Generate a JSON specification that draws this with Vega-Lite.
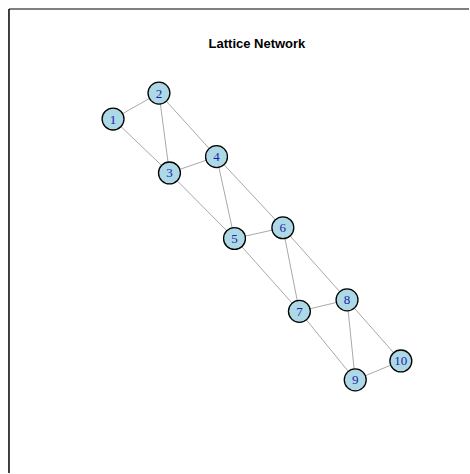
{
  "$schema": "https://vega.github.io/schema/vega-lite/v6.json",
  "width": 470,
  "height": 474,
  "autosize": {"type": "fit", "contains": "padding"},
  "padding": 0,
  "background": "white",
  "config": {"view": {"stroke": null}},
  "datasets": {
    "nodes": [
      {"id": 1, "x": -1.0, "y": 0.819},
      {"id": 2, "x": -0.681, "y": 1.0},
      {"id": 3, "x": -0.608, "y": 0.443},
      {"id": 4, "x": -0.281, "y": 0.557},
      {"id": 5, "x": -0.156, "y": -0.014},
      {"id": 6, "x": 0.180, "y": 0.061},
      {"id": 7, "x": 0.295, "y": -0.522},
      {"id": 8, "x": 0.626, "y": -0.442},
      {"id": 9, "x": 0.683, "y": -1.0},
      {"id": 10, "x": 1.0, "y": -0.868}
    ],
    "edges": [
      {"from": 1, "to": 2}, {"from": 1, "to": 3}, {"from": 2, "to": 3},
      {"from": 2, "to": 4}, {"from": 3, "to": 4}, {"from": 3, "to": 5},
      {"from": 4, "to": 5}, {"from": 4, "to": 6}, {"from": 5, "to": 6},
      {"from": 5, "to": 7}, {"from": 6, "to": 7}, {"from": 6, "to": 8},
      {"from": 7, "to": 8}, {"from": 7, "to": 9}, {"from": 8, "to": 9},
      {"from": 8, "to": 10}, {"from": 9, "to": 10}
    ],
    "one": [{}]
  },
  "layer": [
    {
      "data": {"name": "one"},
      "mark": {"type": "rule", "color": "#555555", "strokeWidth": 1.5},
      "encoding": {
        "x": {"datum": -1.7233, "type": "quantitative", "scale": {"domain": [-1.7857, 1.4736], "nice": false, "zero": false}, "axis": null},
        "x2": {"datum": 1.4736},
        "y": {"datum": 1.5866, "type": "quantitative", "scale": {"domain": [-1.6493, 1.6493], "nice": false, "zero": false}, "axis": null}
      }
    },
    {
      "data": {"name": "one"},
      "mark": {"type": "rule", "color": "black", "strokeWidth": 1.5},
      "encoding": {
        "x": {"datum": -1.7233, "type": "quantitative", "axis": null},
        "y": {"datum": 1.5866, "type": "quantitative", "axis": null},
        "y2": {"datum": -1.6493}
      }
    },
    {
      "data": {"name": "one"},
      "mark": {"type": "text", "text": "Lattice Network", "font": "Liberation Sans", "fontWeight": "bold", "fontSize": 13, "baseline": "alphabetic", "align": "center", "color": "black"},
      "encoding": {
        "x": {"datum": 0, "type": "quantitative", "axis": null},
        "y": {"datum": 1.315, "type": "quantitative", "axis": null}
      }
    },
    {
      "data": {"name": "edges"},
      "transform": [
        {"lookup": "from", "from": {"data": {"name": "nodes"}, "key": "id", "fields": ["x", "y"]}},
        {"lookup": "to", "from": {"data": {"name": "nodes"}, "key": "id", "fields": ["x", "y"]}, "as": ["x2", "y2"]}
      ],
      "mark": {"type": "rule", "color": "#A9A9A9", "strokeWidth": 1},
      "encoding": {
        "x": {"field": "x", "type": "quantitative", "axis": null},
        "y": {"field": "y", "type": "quantitative", "axis": null},
        "x2": {"field": "x2"},
        "y2": {"field": "y2"}
      }
    },
    {
      "data": {"name": "nodes"},
      "mark": {"type": "point", "filled": true, "fill": "#ADD8E6", "stroke": "black", "strokeWidth": 1.3, "size": 480, "opacity": 1, "fillOpacity": 1, "strokeOpacity": 1},
      "encoding": {
        "x": {"field": "x", "type": "quantitative", "axis": null},
        "y": {"field": "y", "type": "quantitative", "axis": null}
      }
    },
    {
      "data": {"name": "nodes"},
      "mark": {"type": "text", "font": "Liberation Serif", "fontSize": 13, "color": "#1C1CA8", "baseline": "middle", "align": "center", "dy": 0.5},
      "encoding": {
        "x": {"field": "x", "type": "quantitative", "axis": null},
        "y": {"field": "y", "type": "quantitative", "axis": null},
        "text": {"field": "id", "type": "nominal"}
      }
    }
  ]
}
